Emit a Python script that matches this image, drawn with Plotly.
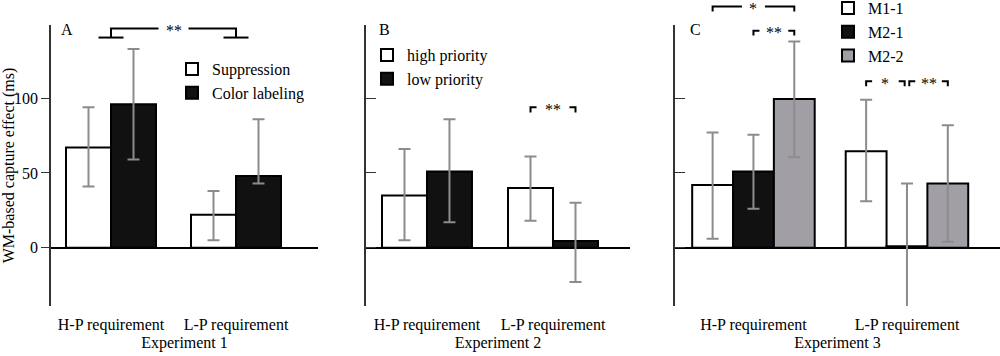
import plotly.graph_objects as go

# ---------------- data ----------------
groups = ["H-P requirement", "L-P requirement"]

# Experiment 1
exp1_names = ["Suppression", "Color labeling"]
exp1_mean = [[67, 22], [96, 48]]
exp1_hi = [[94, 38], [133, 86]]
exp1_lo = [[41, 5], [59, 43]]

# Experiment 2
exp2_names = ["high priority", "low priority"]
exp2_mean = [[35, 40], [51, 4.5]]
exp2_hi = [[66, 61], [86, 30]]
exp2_lo = [[5, 18], [17, -23]]

# Experiment 3
exp3_names = ["M1-1", "M2-1", "M2-2"]
exp3_mean = [[42, 64.5], [51, 1], [99.5, 43]]
exp3_hi = [[77, 99], [75.5, 43], [138, 82]]
exp3_lo = [[6, 31], [26, -40], [60.5, 4]]

panel_titles = ["Experiment 1", "Experiment 2", "Experiment 3"]
panel_letters = ["A", "B", "C"]
y_title = "WM-based capture effect (ms)"
y_ticks = [0, 50, 100]

# ---------------- style ----------------
FONT = "Liberation Serif, Times New Roman, serif"
TXT = dict(size=16, family=FONT, color="#000000")
fills2 = ["#ffffff", "#111111"]
fills3 = ["#ffffff", "#111111", "#a19fa5"]
ERR = "#8c8c8c"
YMIN, YMAX = -39, 149

W, H = 1000, 356
x_dom = [(51, 318), (366, 630), (675, 1000)]
x_rng = [(-0.48, 1.656), (-0.484, 1.611), (-0.511, 1.606)]
bar_w = [0.36, 0.357, 0.266]
y_dom = [1 - 306 / H, 1 - 25 / H]

fig = go.Figure()

panels = [
    (exp1_names, exp1_mean, exp1_hi, exp1_lo, fills2),
    (exp2_names, exp2_mean, exp2_hi, exp2_lo, fills2),
    (exp3_names, exp3_mean, exp3_hi, exp3_lo, fills3),
]
legend_ids = ["legend", "legend2", "legend3"]

for p, (names, means, his, los, fills) in enumerate(panels):
    n = len(names)
    w = bar_w[p]
    xa = "x" if p == 0 else f"x{p+1}"
    ya = "y" if p == 0 else f"y{p+1}"
    for i in range(n):
        fig.add_trace(go.Bar(
            x=groups, y=means[i], name=names[i],
            width=w, offset=-n * w / 2 + i * w,
            marker=dict(color=fills[i], line=dict(color="#000000", width=2)),
            error_y=dict(type="data", symmetric=False,
                         array=[h - m for h, m in zip(his[i], means[i])],
                         arrayminus=[m - l for m, l in zip(means[i], los[i])],
                         color=ERR, thickness=2, width=6),
            xaxis=xa, yaxis=ya, legend=legend_ids[p], hoverinfo="skip",
        ))

layout = dict(
    template="none",
    width=W, height=H,
    margin=dict(l=0, r=0, t=0, b=0, pad=0, autoexpand=False),
    paper_bgcolor="white", plot_bgcolor="white",
    barmode="overlay", showlegend=True,
    font=TXT,
)

for p in range(3):
    sx = "" if p == 0 else str(p + 1)
    layout[f"xaxis{sx}"] = dict(
        domain=[x_dom[p][0] / W, x_dom[p][1] / W], range=list(x_rng[p]),
        anchor=f"y{sx}", showline=False, showgrid=False, zeroline=False,
        ticks="outside", ticklen=4, tickcolor="rgba(0,0,0,0)",
        tickfont=TXT,
        title=dict(text=panel_titles[p], font=TXT, standoff=2),
    )
    layout[f"yaxis{sx}"] = dict(
        domain=y_dom, range=[YMIN, YMAX], anchor=f"x{sx}",
        showline=True, linecolor="#333333", linewidth=1.5,
        showgrid=False, zeroline=True, zerolinecolor="#000000", zerolinewidth=1.5,
        tickvals=y_ticks, ticks="outside" if p == 0 else "inside",
        ticklen=8 if p == 0 else 10, tickcolor="#333333", tickwidth=1.2,
        showticklabels=(p == 0), tickfont=TXT,
    )
layout["yaxis"]["title"] = dict(text=y_title, font=TXT, standoff=4)

legend_pos = [(0.172, 1 - 52 / H), (0.367, 1 - 38 / H), (0.828, 1 + 9 / H)]
for p, lid in enumerate(legend_ids):
    layout[lid] = dict(
        x=legend_pos[p][0], y=legend_pos[p][1], xanchor="left", yanchor="top",
        bgcolor="rgba(0,0,0,0)", font=TXT, borderwidth=0,
        tracegroupgap=0, itemsizing="constant",
    )

fig.update_layout(**layout)


def dom(v):
    return (v - YMIN) / (YMAX - YMIN)


shapes = []
annots = []
LINE = dict(color="#000000", width=2)


def path_shape(xref, yref, path):
    shapes.append(dict(type="path", xref=xref, yref=yref, path=path, line=LINE))


def long_bracket(p, x0, x1, ytop, ydrop, gap, feet, text):
    sx = "" if p == 0 else str(p + 1)
    xref, yref = f"x{sx}", f"y{sx} domain"
    xm = (x0 + x1) / 2
    yt, yd = dom(ytop), dom(ydrop)
    path_shape(xref, yref, f"M{x0},{yd} L{x0},{yt} L{xm - gap},{yt}")
    path_shape(xref, yref, f"M{xm + gap},{yt} L{x1},{yt} L{x1},{yd}")
    if feet:
        for xx in (x0, x1):
            path_shape(xref, yref, f"M{xx - feet},{yd} L{xx + feet},{yd}")
    annots.append(dict(x=xm, y=yt, xref=xref, yref=yref, text=text, showarrow=False,
                       font=TXT, yanchor="middle", yshift=-2))


def short_bracket(p, x0, x1, ytop, ydrop, seg, text):
    sx = "" if p == 0 else str(p + 1)
    xref, yref = f"x{sx}", f"y{sx} domain"
    yt, yd = dom(ytop), dom(ydrop)
    path_shape(xref, yref, f"M{x0},{yd} L{x0},{yt} L{x0 + seg},{yt}")
    path_shape(xref, yref, f"M{x1 - seg},{yt} L{x1},{yt} L{x1},{yd}")
    annots.append(dict(x=(x0 + x1) / 2, y=yt, xref=xref, yref=yref, text=text,
                       showarrow=False, font=TXT, yanchor="middle", yshift=-2))


# Experiment 1: H-P vs L-P
long_bracket(0, 0, 1, 146.6, 140.6, 0.12, 0.1, "**")
# Experiment 2: L-P high vs low
w2 = bar_w[1]
short_bracket(1, 1 - w2 / 2, 1 + w2 / 2, 93.9, 90.4, 0.048, "**")
# Experiment 3
w3 = bar_w[2]
long_bracket(2, -w3, w3, 161.3, 158, 0.075, 0, "*")
short_bracket(2, 0, w3, 145.2, 141.9, 0.039, "**")
short_bracket(2, 1 - w3, 1 - 0.015, 111.3, 108, 0.039, "*")
short_bracket(2, 1 + 0.015, 1 + w3, 111.3, 108, 0.039, "**")

for p in range(3):
    sx = "" if p == 0 else str(p + 1)
    annots.append(dict(x=0.03 if p == 0 else 0.04, y=1, xref=f"x{sx} domain",
                       yref=f"y{sx} domain", text=panel_letters[p], showarrow=False,
                       xanchor="left", yanchor="middle", yshift=-4, font=TXT))

fig.update_layout(shapes=shapes, annotations=annots)
fig.write_html("out.html", config={"displayModeBar": False},
               post_script="document.body.style.margin='0px';")
